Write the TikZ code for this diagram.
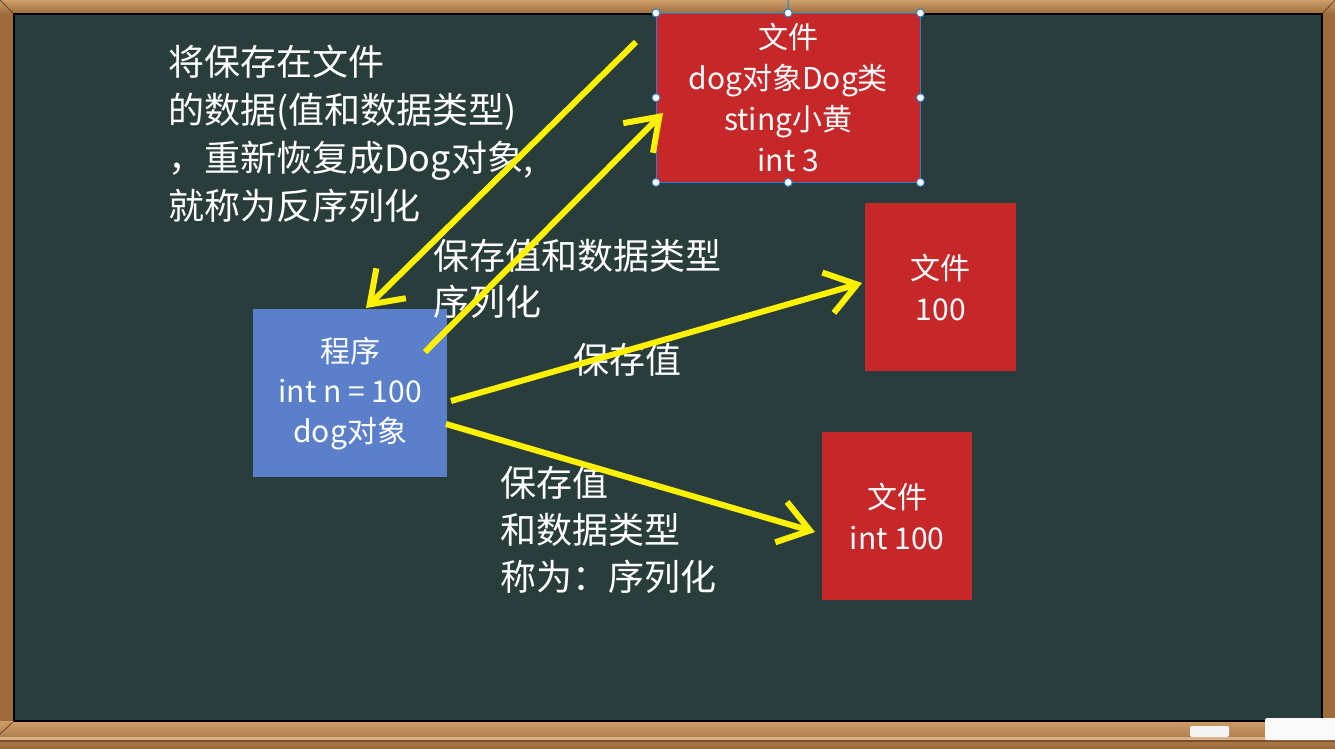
\documentclass[tikz,border=0pt]{standalone}
\usepackage{fontspec}
\setmainfont{Noto Sans CJK SC}
\usetikzlibrary{arrows.meta}

\definecolor{board}{RGB}{42,61,61}
\definecolor{wood}{RGB}{158,108,60}
\definecolor{wooddark}{RGB}{105,68,34}
\definecolor{woodlight}{RGB}{205,158,105}
\definecolor{filered}{RGB}{198,40,42}
\definecolor{progblue}{RGB}{91,127,200}
\definecolor{chalkyellow}{RGB}{255,242,0}
\definecolor{selblue}{RGB}{45,125,205}

\tikzset{
  filebox/.style={fill=filered, draw=none, inner sep=0pt, anchor=north west,
    text=white, align=center, font=\fontsize{30}{41}\selectfont},
  progbox/.style={fill=progblue, draw=none, inner sep=0pt, anchor=north west,
    text=white, align=center, font=\fontsize{30}{40}\selectfont},
  chalktext/.style={text=white, inner sep=0pt, anchor=west, align=left},
  flow/.style={draw=chalkyellow, line width=6pt,
    -{Straight Barb[length=30pt,width=42pt]}},
  handle/.style={circle, fill=white, draw=selblue, line width=1pt,
    minimum size=8pt, inner sep=0pt},
}

\begin{document}
\begin{tikzpicture}[x=1pt,y=-1pt]
\useasboundingbox (0,0) rectangle (1335,748);

% wooden frame
\shade[top color=woodlight, bottom color=wood] (0,0) rectangle (1335,14);
\fill[wood] (0,14) rectangle (14,748);
\fill[wood] (1322,14) rectangle (1335,748);
\draw[wooddark, line width=0.8pt] (0,0) -- (14,14) (1335,0) -- (1322,14);
% slate
\fill[board] (14,14) rectangle (1322,721);
\draw[black, line width=1.2pt] (14,721) -- (14,14) -- (1322,14) -- (1322,721);
% chalk tray
\shade[top color=woodlight, bottom color=wood] (0,721) rectangle (1335,748);
\draw[wooddark, line width=0.8pt] (0,734) -- (14,721);
\draw[black, line width=1.2pt] (14,721) -- (1322,721);
\fill[woodlight!80!white] (0,737) rectangle (1335,740);
\fill[wooddark!70!wood] (0,740) rectangle (1335,742);
\fill[white!92!gray, rounded corners=2pt] (1190,726) rectangle (1229,737);
\fill[white!95!gray, rounded corners=2pt] (1265,718) rectangle (1337,740);

% boxes
\node[filebox, minimum width=264pt, minimum height=169pt] (f1) at (656,13)
  {文件\\dog对象Dog类\\sting小黄\\int 3};
\node[filebox, minimum width=151pt, minimum height=168pt] (f2) at (865,203)
  {文件\\100};
\node[filebox, minimum width=150pt, minimum height=168pt] (f3) at (822,432)
  {文件\\int 100};
\node[progbox, minimum width=194pt, minimum height=168pt] (prog) at (253,309)
  {程序\\int n = 100\\dog对象};

% selection frame of the top file box
\draw[selblue, line width=1pt] (f1.north west) rectangle (f1.south east);
\coordinate (rot) at (788,0);
\draw[selblue, line width=1pt] (f1.north) -- (rot);
\foreach \a in {north west,north,north east,west,east,south west,south,south east}
  \node[handle] at (f1.\a) {};

% chalk notes
\node[chalktext, font=\fontsize{36}{48}\selectfont] (note) at (168,134)
  {将保存在文件\\的数据(值和数据类型)\\，重新恢复成Dog对象,\\就称为反序列化};
\node[chalktext, font=\fontsize{36}{46}\selectfont] (lab1) at (433,279)
  {保存值和数据类型\\序列化};
\node[chalktext, font=\fontsize{36}{46}\selectfont] (lab2) at (573,360)
  {保存值};
\node[chalktext, font=\fontsize{36}{47}\selectfont] (lab3) at (500,530)
  {保存值\\和数据类型\\称为：序列化};

% arrow end points
\coordinate (a1s) at (636,42);
\coordinate (a1e) at (366,308);
\coordinate (a2s) at (425,352);
\coordinate (a2e) at (663,113);
\coordinate (a3s) at (451,401);
\coordinate (a3e) at (862,283);
\coordinate (a4s) at (446,424);
\coordinate (a4e) at (815,532);

\draw[flow] (a1s) -- (a1e);
\draw[flow] (a2s) -- (a2e);
\draw[flow] (a3s) -- (a3e);
\draw[flow] (a4s) -- (a4e);
\end{tikzpicture}
\end{document}
